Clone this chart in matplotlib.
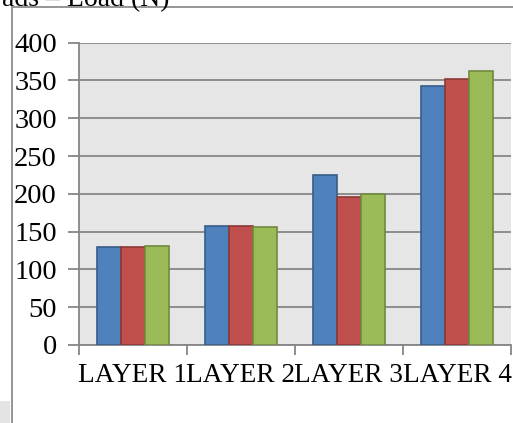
import matplotlib.pyplot as plt
import matplotlib.patches as patches
import numpy as np

plt.rcParams['font.family'] = ['Liberation Serif', 'DejaVu Serif']

layers = ["LAYER 1", "LAYER 2", "LAYER 3", "LAYER 4"]
series_a = [129, 157, 225, 343]
series_b = [130, 158, 196, 352]
series_c = [131, 156, 200, 363]
yticks = [0, 50, 100, 150, 200, 250, 300, 350, 400]

fills = ['#4F81BD', '#C0504D', '#9BBB59']
edges = ['#385D8A', '#8C3836', '#71893F']

W, H = 513, 423
fig = plt.figure(figsize=(W / 100, H / 100), dpi=100)

# outer chart frame (only top and left edges show)
fig.add_artist(plt.Line2D([12 / W, 12 / W], [0, 1 - 7 / H], color='#8c8c8c', lw=1.3))
fig.add_artist(plt.Line2D([12 / W, 1], [1 - 7 / H, 1 - 7 / H], color='#8c8c8c', lw=1.3))
fig.add_artist(patches.Rectangle((0, 0), 10 / W, 22 / H, color='#e4e4e4', lw=0))

# title, mostly cut off at the top edge
fig.text(2 / W, 1 - 6 / H, "ads \u2013 Load (N)", fontsize=20, va='baseline', ha='left')

ax = fig.add_axes([79 / W, 1 - 345 / H, 432 / W, (345 - 42.6) / H])
ax.set_facecolor('#E6E6E6')

x = np.arange(len(layers))
width = 0.225
for i, vals in enumerate([series_a, series_b, series_c]):
    ax.bar(x + (i - 1) * width, vals, width=width, color=fills[i],
           edgecolor=edges[i], linewidth=1.2, zorder=3)

ax.set_xlim(-0.5, len(layers) - 0.5)
ax.set_ylim(0, 400)
ax.set_yticks(yticks)
ax.yaxis.grid(True, color='#868686', linewidth=1.3, zorder=1)
ax.set_axisbelow(True)

# category boundaries as major ticks, names centred as minor ticks
ax.set_xticks(np.arange(-0.5, len(layers), 1.0))
ax.set_xticklabels([])
ax.set_xticks(x, minor=True)
ax.set_xticklabels(layers, minor=True, fontsize=19.6)
ax.tick_params(axis='x', which='major', length=7, width=1.3, color='#868686')
ax.tick_params(axis='x', which='minor', length=0, pad=13)
ax.tick_params(axis='y', length=8, width=1.3, color='#868686', labelsize=20.5, pad=8)

for side in ['top', 'right']:
    ax.spines[side].set_visible(False)
for side in ['left', 'bottom']:
    ax.spines[side].set_color('#868686')
    ax.spines[side].set_linewidth(1.3)

fig.savefig('out.png', dpi=100)
